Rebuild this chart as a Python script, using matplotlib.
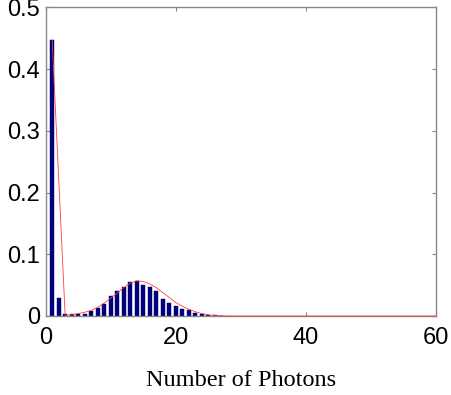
import matplotlib
matplotlib.use('Agg')
import matplotlib.pyplot as plt

# photon-number histogram (bars) and fitted distribution (red line)
n_photons = list(range(1, 28))
probability = [0.447, 0.029, 0.003, 0.003, 0.004, 0.004, 0.008, 0.013, 0.020, 0.032,
               0.040, 0.047, 0.055, 0.056, 0.051, 0.047, 0.040, 0.028, 0.021, 0.016,
               0.011, 0.009, 0.005, 0.003, 0.002, 0.001, 0.0005]

fit_x = [1, 3, 4, 5, 6, 7, 8, 9, 10, 11, 12, 13, 14, 15, 16, 17, 18, 19, 20,
         21, 22, 23, 24, 25, 26, 27, 28, 60]
fit_y = [0.447, 0.001, 0.002, 0.004, 0.006, 0.009, 0.014, 0.021, 0.029, 0.037,
         0.046, 0.053, 0.057, 0.056, 0.052, 0.046, 0.038, 0.030, 0.022, 0.016,
         0.011, 0.007, 0.004, 0.002, 0.001, 0.0005, 0.0, 0.0]

xticks = [0, 20, 40, 60]
yticks = [0, 0.1, 0.2, 0.3, 0.4, 0.5]

fig = plt.figure(figsize=(4.52, 3.95), dpi=100)
ax = fig.add_axes([0.101, 0.2, 0.863, 0.7815])

ax.bar(n_photons, probability, width=0.62, color='#000080', edgecolor='#000060',
       linewidth=0.3, zorder=2)
ax.plot(fit_x, fit_y, color='#ff4040', linewidth=0.6, zorder=3, clip_on=False)

ax.set_xlim(0, 60)
ax.set_ylim(0, 0.5)
ax.set_xticks(xticks)
ax.set_yticks(yticks)
ax.set_xticklabels([str(t) for t in xticks])
ax.set_yticklabels(['0', '0.1', '0.2', '0.3', '0.4', '0.5'])

for s in ax.spines.values():
    s.set_color('#888888')
    s.set_linewidth(1.0)

ax.tick_params(direction='in', length=3, width=0.8, color='#888888',
               top=True, right=True, labelsize=17)
ax.tick_params(axis='x', pad=8)
ax.tick_params(axis='y', pad=4)
for lab in ax.get_xticklabels() + ax.get_yticklabels():
    lab.set_family('Liberation Sans')

ax.set_xlabel('Number of Photons', family='Liberation Serif', fontsize=17.5,
              labelpad=15)

plt.savefig('out.png', dpi=100, facecolor='white')
plt.close()
